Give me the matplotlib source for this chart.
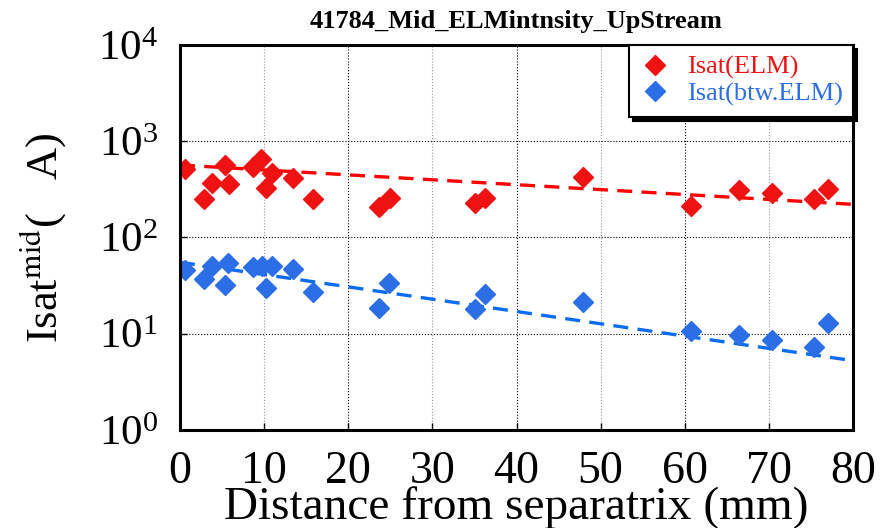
import matplotlib
matplotlib.use("Agg")
import matplotlib.pyplot as plt
from matplotlib.ticker import MultipleLocator, LogLocator, LogFormatterMathtext, NullLocator

plt.rcParams['font.family'] = ['Liberation Serif', 'DejaVu Serif']
plt.rcParams['mathtext.fontset'] = 'stix'

# distance from separatrix (mm) and Isat (A)
elm_x = [0.6, 2.9, 3.8, 5.3, 5.8, 8.7, 9.6, 10.2, 10.9, 13.4, 15.8,
         23.6, 25.0, 35.1, 36.3, 47.9, 60.7, 66.5, 70.4, 75.4, 77.0]
elm_y = [511, 249, 371, 571, 357, 536, 649, 325, 471, 415, 249,
         209, 255, 227, 255, 428, 212, 312, 288, 249, 317]

btw_x = [0.6, 2.9, 3.8, 5.3, 5.7, 8.7, 9.7, 10.9, 10.2, 13.4, 15.8,
         23.6, 24.8, 35.1, 36.3, 47.9, 60.7, 66.5, 70.4, 75.4, 77.0]
btw_y = [46, 36.8, 50.6, 32, 54.7, 49.8, 50.6, 50.6, 30, 46.7, 27,
         18.7, 34, 18.1, 25.9, 21.2, 10.7, 9.7, 8.6, 7.2, 13.0]

# exponential fits (straight lines on the log axis)
fit_x = [0, 80]
elm_fit = [566, 221]
btw_fit = [55.3, 5.25]

red = '#ef1212'
blue = '#2c6ee6'

fig = plt.figure(figsize=(8.87, 5.28), dpi=100)
ax = fig.add_axes([0.2029, 0.1856, 0.7588, 0.7292])

ax.plot(fit_x, elm_fit, color='#ff0000', lw=2.4, dashes=(4.5, 2.8))
ax.plot(fit_x, btw_fit, color='#0a6cf2', lw=2.4, dashes=(4.5, 2.8))

ax.plot(elm_x, elm_y, ls='none', marker='D', ms=10, color=red, mec=red,
        label='Isat(ELM)')
ax.plot(btw_x, btw_y, ls='none', marker='D', ms=10, color=blue, mec=blue,
        label='Isat(btw.ELM)')

ax.set_yscale('log')
ax.set_xlim(0, 80)
ax.set_ylim(1, 1e4)

ax.xaxis.set_major_locator(MultipleLocator(20))
ax.xaxis.set_minor_locator(MultipleLocator(10))
ax.xaxis.set_minor_formatter(plt.FuncFormatter(lambda v, p: f'{v:g}'))
ax.yaxis.set_major_locator(LogLocator(base=10, numticks=10))
ax.yaxis.set_major_formatter(LogFormatterMathtext())
ax.yaxis.set_minor_locator(NullLocator())

ax.tick_params(axis='x', which='both', direction='in', length=5, width=1,
               labelsize=33, pad=15)
ax.tick_params(axis='y', which='both', direction='in', length=5, width=1,
               labelsize=31, pad=16)

ax.grid(True, which='major', axis='both', color='black', ls=':', lw=0.8)
ax.grid(True, which='minor', axis='x', color='#999999', ls=':', lw=0.8)

for s in ax.spines.values():
    s.set_linewidth(2.2)

ax.set_xlabel('Distance from separatrix (mm)', fontsize=34)
ax.xaxis.set_label_coords(0.5, -0.145)
ax.set_ylabel(r'Isat$^{\mathrm{mid}}$(   A)', fontsize=32)
ax.yaxis.set_label_coords(-0.165, 0.5)

ax.set_title('41784_Mid_ELMintnsity_UpStream', fontsize=19,
             fontweight='bold', pad=12)

leg = ax.legend(loc='upper right', borderaxespad=0, numpoints=1,
                fontsize=19, fancybox=False, framealpha=1,
                edgecolor='black', handlelength=1.2, handletextpad=0.6,
                labelspacing=0.1, borderpad=0.4,
                shadow={'color': 'black', 'alpha': 1, 'ox': 3, 'oy': -3})
leg.get_frame().set_linewidth(1.5)
for txt, c in zip(leg.get_texts(), [red, blue]):
    txt.set_color(c)

fig.savefig('out.png', dpi=100)
